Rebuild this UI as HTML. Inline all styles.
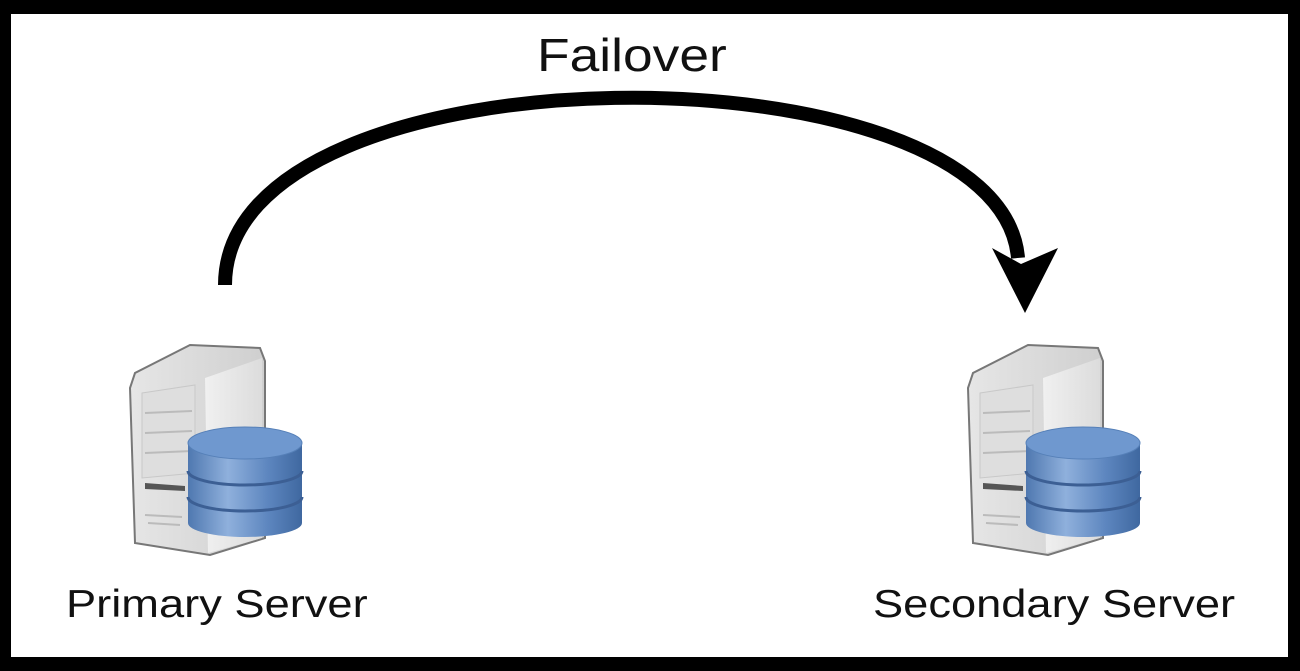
<!DOCTYPE html>
<html><head><style>
html,body{margin:0;padding:0;}
body{width:1300px;height:671px;background:#000;position:relative;overflow:hidden;font-family:"Liberation Sans",Arial,sans-serif;}
.in{position:absolute;left:11px;top:14px;width:1277px;height:643px;background:#fff;}
.t{position:absolute;color:#111;white-space:nowrap;transform-origin:0 0;transform:scaleX(1.16);}
</style></head><body>
<div class="in"></div>
<svg width="1300" height="671" style="position:absolute;left:0;top:0">
<defs>
<linearGradient id="tw" x1="0" x2="1"><stop offset="0" stop-color="#e6e6e6"/><stop offset="1" stop-color="#cfcfcf"/></linearGradient>
<linearGradient id="ts" x1="0" x2="1"><stop offset="0" stop-color="#f0f0f0"/><stop offset="1" stop-color="#dcdcdc"/></linearGradient>
<linearGradient id="db" x1="0" x2="1"><stop offset="0" stop-color="#4f78b0"/><stop offset="0.35" stop-color="#8fb0dc"/><stop offset="0.7" stop-color="#5d86bf"/><stop offset="1" stop-color="#3f68a0"/></linearGradient>
<g id="srv">
<path d="M0,45 L5,30 L60,2 L130,5 L135,18 L135,195 L80,212 L5,200 Z" fill="url(#tw)" stroke="#777" stroke-width="2"/>
<path d="M75,35 L132,15 L132,195 L78,210 Z" fill="url(#ts)"/>
<path d="M12,50 L65,42 L65,130 L12,135 Z" fill="#dedede" stroke="#c8c8c8"/>
<line x1="15" y1="70" x2="62" y2="68" stroke="#bbb" stroke-width="2"/>
<line x1="15" y1="90" x2="62" y2="88" stroke="#bbb" stroke-width="2"/>
<line x1="15" y1="110" x2="62" y2="108" stroke="#bbb" stroke-width="2"/>
<path d="M15,140 L55,143 L55,148 L15,146 Z" fill="#555"/>
<line x1="15" y1="172" x2="52" y2="174" stroke="#bbb" stroke-width="2"/>
<line x1="18" y1="180" x2="50" y2="182" stroke="#bbb" stroke-width="2"/>
<path d="M58,100 L58,180 A57,14 0 0 0 172,180 L172,100 Z" fill="url(#db)"/>
<ellipse cx="115" cy="100" rx="57" ry="16" fill="#6f98cf" stroke="#5680b8"/>
<path d="M58,128 A57,14 0 0 0 172,128" fill="none" stroke="#3c5f94" stroke-width="3"/>
<path d="M58,154 A57,14 0 0 0 172,154" fill="none" stroke="#3c5f94" stroke-width="3"/>
</g>
</defs>
<use href="#srv" x="130" y="343"/>
<use href="#srv" x="968" y="343"/>
<path d="M225,285 C225,40 1000,40 1018,258" fill="none" stroke="#000" stroke-width="14"/>
<path d="M992,248 L1021,264 L1058,248 L1025,313 Z" fill="#000"/>
</svg>
<div class="t" style="left:537px;top:28px;font-size:46px;">Failover</div>
<div class="t" style="left:66px;top:583px;font-size:39px;">Primary Server</div>
<div class="t" style="left:873px;top:583px;font-size:39px;">Secondary Server</div>
</body></html>
